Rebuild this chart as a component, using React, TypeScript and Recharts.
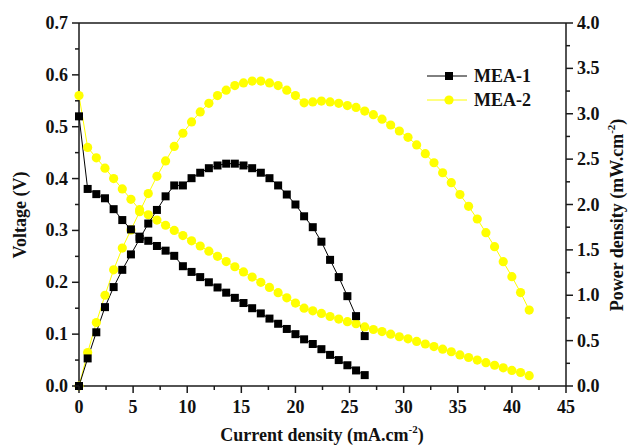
import React from 'react';
import { ComposedChart, Line, XAxis, YAxis, ReferenceLine, Customized } from 'recharts';

const currentMEA1 = [0, 0.8, 1.6, 2.4, 3.2, 4.0, 4.8, 5.6, 6.4, 7.2, 8.0, 8.8, 9.6, 10.4, 11.2, 12.0, 12.8, 13.6, 14.4, 15.2, 16.0, 16.8, 17.6, 18.4, 19.2, 20.0, 20.8, 21.6, 22.4, 23.2, 24.0, 24.8, 25.6, 26.4];
const voltageMEA1 = [0.52, 0.38, 0.37, 0.362, 0.341, 0.32, 0.302, 0.288, 0.28, 0.27, 0.261, 0.251, 0.231, 0.22, 0.21, 0.2, 0.19, 0.18, 0.17, 0.16, 0.15, 0.14, 0.13, 0.12, 0.11, 0.1, 0.09, 0.081, 0.071, 0.06, 0.05, 0.04, 0.03, 0.021];
const powerMEA1 = [0, 0.304, 0.592, 0.869, 1.09, 1.28, 1.45, 1.62, 1.79, 1.94, 2.09, 2.21, 2.21, 2.29, 2.35, 2.4, 2.43, 2.45, 2.45, 2.43, 2.4, 2.35, 2.29, 2.21, 2.11, 2.0, 1.87, 1.75, 1.59, 1.39, 1.2, 0.99, 0.77, 0.55];

const currentMEA2 = [0, 0.8, 1.6, 2.4, 3.2, 4.0, 4.8, 5.6, 6.4, 7.2, 8.0, 8.8, 9.6, 10.4, 11.2, 12.0, 12.8, 13.6, 14.4, 15.2, 16.0, 16.8, 17.6, 18.4, 19.2, 20.0, 20.8, 21.6, 22.4, 23.2, 24.0, 24.8, 25.6, 26.4, 27.2, 28.0, 28.8, 29.6, 30.4, 31.2, 32.0, 32.8, 33.6, 34.4, 35.2, 36.0, 36.8, 37.6, 38.4, 39.2, 40.0, 40.8, 41.6];
const voltageMEA2 = [0.56, 0.46, 0.44, 0.42, 0.4, 0.38, 0.36, 0.34, 0.33, 0.32, 0.31, 0.3, 0.29, 0.28, 0.27, 0.26, 0.25, 0.24, 0.23, 0.22, 0.21, 0.2, 0.19, 0.18, 0.17, 0.16, 0.15, 0.145, 0.14, 0.134, 0.129, 0.124, 0.12, 0.114, 0.109, 0.105, 0.1, 0.095, 0.091, 0.086, 0.081, 0.076, 0.071, 0.066, 0.06, 0.055, 0.05, 0.045, 0.04, 0.035, 0.03, 0.026, 0.02];
const powerMEA2 = [0, 0.368, 0.7, 1.0, 1.28, 1.52, 1.72, 1.92, 2.12, 2.31, 2.48, 2.64, 2.785, 2.91, 3.02, 3.115, 3.2, 3.26, 3.31, 3.34, 3.36, 3.36, 3.34, 3.31, 3.26, 3.2, 3.12, 3.13, 3.14, 3.13, 3.115, 3.09, 3.07, 3.03, 2.99, 2.94, 2.876, 2.81, 2.74, 2.656, 2.56, 2.46, 2.35, 2.24, 2.11, 1.98, 1.84, 1.69, 1.535, 1.37, 1.205, 1.03, 0.837];

const xMajorTicks = [0, 5, 10, 15, 20, 25, 30, 35, 40, 45];
const xMinorTicks = [2.5, 7.5, 12.5, 17.5, 22.5, 27.5, 32.5, 37.5, 42.5];
const vMajorTicks = [0, 0.1, 0.2, 0.3, 0.4, 0.5, 0.6, 0.7];
const vMinorTicks = [0.05, 0.15, 0.25, 0.35, 0.45, 0.55, 0.65];
const pMajorTicks = [0, 0.5, 1.0, 1.5, 2.0, 2.5, 3.0, 3.5, 4.0];
const pMinorTicks = [0.25, 0.75, 1.25, 1.75, 2.25, 2.75, 3.25, 3.75];

const seriesNames = ['MEA-1', 'MEA-2'];

const toPoints = (xs: number[], ys: number[]) => xs.map((x, i) => ({ x, y: ys[i] }));

const v1 = toPoints(currentMEA1, voltageMEA1);
const p1 = toPoints(currentMEA1, powerMEA1);
const v2 = toPoints(currentMEA2, voltageMEA2);
const p2 = toPoints(currentMEA2, powerMEA2);

const FONT = '"Liberation Serif", "Times New Roman", serif';
const AXIS = '#1a1a1a';
const YELLOW = '#ffff00';

const sortNum = (a: number, b: number) => a - b;
const xTicks = [...xMajorTicks, ...xMinorTicks].sort(sortNum);
const vTicks = [...vMajorTicks, ...vMinorTicks].sort(sortNum);
const pTicks = [...pMajorTicks, ...pMinorTicks].sort(sortNum);

const isMajor = (v: number, majors: number[]) => majors.some((m) => Math.abs(m - v) < 1e-6);

const XTick = (props: any) => {
  const { x, y, payload } = props;
  const major = isMajor(payload.value, xMajorTicks);
  return (
    <g>
      <line x1={x} y1={y} x2={x} y2={y + (major ? 7 : 4)} stroke={AXIS} strokeWidth={1.5} />
      {major && (
        <text x={x} y={y + 27} textAnchor="middle" fontFamily={FONT} fontWeight="bold" fontSize={18} fill="#111">
          {payload.value}
        </text>
      )}
    </g>
  );
};

const VTick = (props: any) => {
  const { x, y, payload } = props;
  const major = isMajor(payload.value, vMajorTicks);
  return (
    <g>
      <line x1={x} y1={y} x2={x - (major ? 7 : 4)} y2={y} stroke={AXIS} strokeWidth={1.5} />
      {major && (
        <text x={x - 11} y={y + 6} textAnchor="end" fontFamily={FONT} fontWeight="bold" fontSize={18} fill="#111">
          {Number(payload.value).toFixed(1)}
        </text>
      )}
    </g>
  );
};

const PTick = (props: any) => {
  const { x, y, payload } = props;
  const major = isMajor(payload.value, pMajorTicks);
  return (
    <g>
      <line x1={x} y1={y} x2={x + (major ? 7 : 4)} y2={y} stroke={AXIS} strokeWidth={1.5} />
      {major && (
        <text x={x + 11} y={y + 6} textAnchor="start" fontFamily={FONT} fontWeight="bold" fontSize={18} fill="#111">
          {Number(payload.value).toFixed(1)}
        </text>
      )}
    </g>
  );
};

const SquareDot = (props: any) => {
  const { cx, cy, index } = props;
  if (cx == null || cy == null) return <g key={index} />;
  return <rect key={index} x={cx - 4} y={cy - 4} width={8} height={8} fill="#000" />;
};

const CircleDot = (props: any) => {
  const { cx, cy, index } = props;
  if (cx == null || cy == null) return <g key={index} />;
  return <circle key={index} cx={cx} cy={cy} r={4.6} fill={YELLOW} />;
};

const Decorations = () => (
  <g>
    <text x={322} y={441} textAnchor="middle" fontFamily={FONT} fontWeight="bold" fontSize={18} fill="#111">
      Current density (mA.cm
      <tspan dy={-8} fontSize={11}>-2</tspan>
      <tspan dy={8}>)</tspan>
    </text>
    <text
      transform="translate(26,215) rotate(-90)"
      x={0}
      y={0}
      textAnchor="middle"
      fontFamily={FONT}
      fontWeight="bold"
      fontSize={18}
      fill="#111"
    >
      Voltage (V)
    </text>
    <text
      transform="translate(623,215) rotate(-90)"
      x={0}
      y={0}
      textAnchor="middle"
      fontFamily={FONT}
      fontWeight="bold"
      fontSize={18}
      fill="#111"
    >
      Power density (mW.cm
      <tspan dy={-8} fontSize={11}>-2</tspan>
      <tspan dy={8}>)</tspan>
    </text>
    <line x1={427} y1={76} x2={467} y2={76} stroke="#000" strokeWidth={1} />
    <rect x={445} y={72} width={8} height={8} fill="#000" />
    <text x={474} y={82} fontFamily={FONT} fontWeight="bold" fontSize={18} fill="#111">
      {seriesNames[0]}
    </text>
    <line x1={427} y1={100} x2={467} y2={100} stroke={YELLOW} strokeWidth={1} />
    <circle cx={449} cy={100} r={4.6} fill={YELLOW} />
    <text x={474} y={106} fontFamily={FONT} fontWeight="bold" fontSize={18} fill="#111">
      {seriesNames[1]}
    </text>
  </g>
);

export default function App() {
  return (
    <div style={{ position: 'absolute', left: 0, top: 0, background: '#fff' }}>
      <ComposedChart width={631} height={446} margin={{ top: 23, right: 25, bottom: 20, left: 19 }}>
        <XAxis
          type="number"
          dataKey="x"
          domain={[0, 45]}
          ticks={xTicks}
          interval={0}
          allowDuplicatedCategory={false}
          tickSize={0}
          tickMargin={0}
          tickLine={false}
          tick={<XTick />}
          axisLine={{ stroke: AXIS, strokeWidth: 1.5 }}
          height={40}
        />
        <YAxis
          yAxisId="v"
          orientation="left"
          type="number"
          domain={[0, 0.7]}
          ticks={vTicks}
          interval={0}
          tickSize={0}
          tickMargin={0}
          tickLine={false}
          tick={<VTick />}
          axisLine={{ stroke: AXIS, strokeWidth: 1.5 }}
          width={60}
        />
        <YAxis
          yAxisId="p"
          orientation="right"
          type="number"
          domain={[0, 4]}
          ticks={pTicks}
          interval={0}
          tickSize={0}
          tickMargin={0}
          tickLine={false}
          tick={<PTick />}
          axisLine={{ stroke: AXIS, strokeWidth: 1.5 }}
          width={40}
        />
        <ReferenceLine yAxisId="v" y={0.7} stroke={AXIS} strokeWidth={1.5} />
        <Line
          yAxisId="p"
          data={p2}
          dataKey="y"
          stroke={YELLOW}
          strokeWidth={1}
          dot={CircleDot}
          activeDot={false}
          isAnimationActive={false}
          legendType="none"
        />
        <Line
          yAxisId="v"
          data={v2}
          dataKey="y"
          stroke={YELLOW}
          strokeWidth={1}
          dot={CircleDot}
          activeDot={false}
          isAnimationActive={false}
          legendType="none"
        />
        <Line
          yAxisId="p"
          data={p1}
          dataKey="y"
          stroke="#000"
          strokeWidth={1}
          dot={SquareDot}
          activeDot={false}
          isAnimationActive={false}
          legendType="none"
        />
        <Line
          yAxisId="v"
          data={v1}
          dataKey="y"
          stroke="#000"
          strokeWidth={1}
          dot={SquareDot}
          activeDot={false}
          isAnimationActive={false}
          legendType="none"
        />
        <Customized component={Decorations} />
      </ComposedChart>
    </div>
  );
}
